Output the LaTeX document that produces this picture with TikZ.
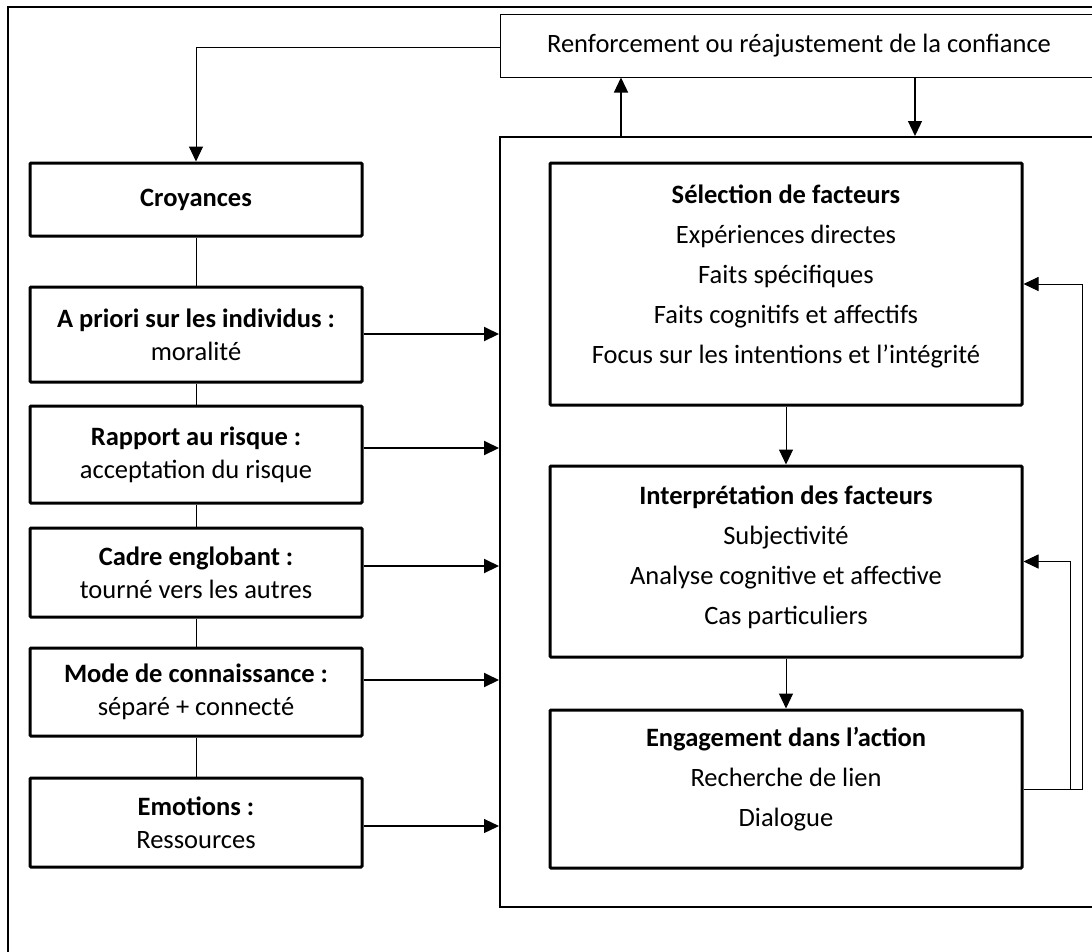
\documentclass[tikz,border=0pt]{standalone}
\usepackage{fontspec}
\setmainfont{Carlito}
\usetikzlibrary{arrows.meta}
\tikzset{
  leftbox/.style={draw, line width=3pt, rounded corners=1pt, minimum width=332pt, align=center, inner sep=0pt,
    font=\fontsize{26.5}{33}\selectfont},
  subbox/.style={draw, line width=3pt, rounded corners=1pt, minimum width=472pt, inner sep=0pt},
  subtext/.style={align=center, inner sep=0pt, font=\fontsize{26.5}{40}\selectfont},
  conn/.style={line width=1pt},
  arr/.style={line width=1pt, -{Triangle[length=15pt,width=14pt]}},
  thickarr/.style={line width=2pt, -{Triangle[length=15pt,width=14pt]}},
}
\begin{document}
\begin{tikzpicture}[x=1pt,y=-1pt]
\useasboundingbox (0,0) rectangle (1092,951);
\clip (0,0) rectangle (1092,951);
% outer frame
\node[draw, line width=1.5pt, minimum width=1102pt, minimum height=963pt, inner sep=0pt] (frame) at (559,488.5) {};
% top box
\node[draw, line width=1pt, minimum width=598pt, minimum height=63pt, inner sep=0pt,
  font=\fontsize{26.5}{33}\selectfont] (top) at (799,45.5) {Renforcement ou réajustement de la confiance};
% big box
\node[draw, line width=2pt, minimum width=620pt, minimum height=770pt, inner sep=0pt] (big) at (810,522) {};
% left boxes
\node[leftbox, minimum height=73pt] (cro) at (196,199.5) {\textbf{Croyances}};
\node[leftbox, minimum height=95pt] (apr) at (196,334.5) {\textbf{A priori sur les individus :}\\moralité};
\node[leftbox, minimum height=97pt] (rap) at (196,454.5) {\textbf{Rapport au risque :}\\acceptation du risque};
\node[leftbox, minimum height=89pt] (cad) at (196,572.5) {\textbf{Cadre englobant :}\\tourné vers les autres};
\node[leftbox, minimum height=88pt] (mod) at (196,692) {\textbf{Mode de connaissance :}\\séparé + connecté};
\node[leftbox, minimum height=89pt] (emo) at (196,822.5) {\textbf{Emotions :}\\Ressources};
% right sub boxes
\node[subbox, minimum height=242pt] (sel) at (786,284) {};
\node[subbox, minimum height=191pt] (int) at (786,561.5) {};
\node[subbox, minimum height=158pt] (eng) at (786,789) {};
\node[subtext] (selt) at (786,276.5) {\textbf{Sélection de facteurs}\\Expériences directes\\Faits spécifiques\\Faits cognitifs et affectifs\\Focus sur les intentions et l’intégrité};
\node[subtext] (intt) at (786,557.5) {\textbf{Interprétation des facteurs}\\Subjectivité\\Analyse cognitive et affective\\Cas particuliers};
\node[subtext] (engt) at (786,779) {\textbf{Engagement dans l’action}\\Recherche de lien\\Dialogue};
% helper coordinates
\coordinate (ytop) at (0,47);
\coordinate (ya1) at (0,334);
\coordinate (ya2) at (0,448);
\coordinate (ya3) at (0,566);
\coordinate (ya4) at (0,680);
\coordinate (ya5) at (0,826);
\coordinate (ux) at (621,0);
\coordinate (dx) at (915,0);
\coordinate (fb1) at (1082,0);
\coordinate (fb2) at (1070,0);
% connectors
\draw[arr] (top.west |- ytop) -| (cro.north);
\draw[conn] (cro.south) -- (apr.north);
\draw[conn] (apr.south) -- (rap.north);
\draw[conn] (rap.south) -- (cad.north);
\draw[conn] (cad.south) -- (mod.north);
\draw[conn] (mod.south) -- (emo.north);
\draw[thickarr] (apr.east |- ya1) -- (big.west |- ya1);
\draw[thickarr] (rap.east |- ya2) -- (big.west |- ya2);
\draw[thickarr] (cad.east |- ya3) -- (big.west |- ya3);
\draw[thickarr] (mod.east |- ya4) -- (big.west |- ya4);
\draw[arr, line width=1.2pt] (emo.east |- ya5) -- (big.west |- ya5);
\draw[arr, line width=1.3pt] (big.north -| ux) -- (top.south -| ux);
\draw[arr, line width=1.3pt] (top.south -| dx) -- (big.north -| dx);
\draw[arr] (sel.south) -- (int.north);
\draw[arr] (int.south) -- (eng.north);
\draw[arr] (eng.east) -- (eng.east -| fb1) -- (sel.east -| fb1) -- (sel.east);
\draw[arr] (eng.east -| fb1) -- (eng.east -| fb2) -- (int.east -| fb2) -- (int.east);
\end{tikzpicture}
\end{document}
